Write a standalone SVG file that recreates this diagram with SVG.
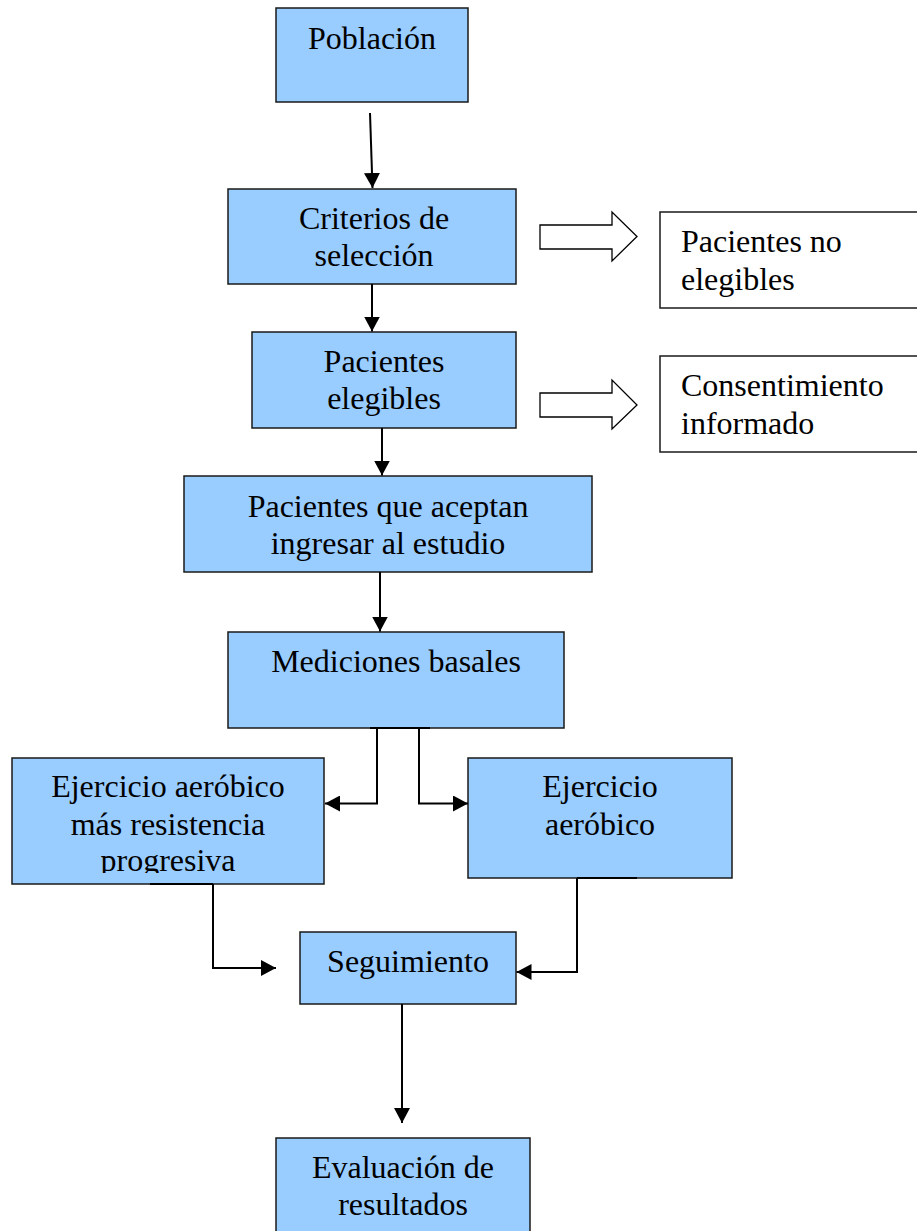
<svg xmlns="http://www.w3.org/2000/svg" width="917" height="1231" viewBox="0 0 917 1231">
<style>
.box{fill:#99ccff;stroke:#1a1a1a;stroke-width:1.5}
.wbox{fill:#ffffff;stroke:#1a1a1a;stroke-width:1.5}
.t{font-family:"Liberation Serif","Times New Roman",serif;font-size:32px;fill:#000;text-anchor:middle}
.tl{font-family:"Liberation Serif","Times New Roman",serif;font-size:32px;fill:#000;text-anchor:start}
.c{fill:none;stroke:#000;stroke-width:2}
.blk{fill:#fff;stroke:#000;stroke-width:1.3}
</style>
<defs>
<marker id="ah" markerUnits="userSpaceOnUse" markerWidth="16" markerHeight="16" refX="15" refY="8" orient="auto">
<path d="M0,0 L15,8 L0,16 z" fill="#000"/>
</marker>
<clipPath id="clipL"><rect x="12" y="758" width="312" height="115"/></clipPath>
</defs>
<rect width="917" height="1231" fill="#fff"/>
<g id="n-poblacion">
<rect class="box" x="276" y="8" width="192" height="94"/>
<text class="t" x="372" y="49">Población</text>
</g>
<g id="n-criterios">
<rect class="box" x="228" y="189" width="288" height="95"/>
<text class="t" x="374" y="229">Criterios de</text>
<text class="t" x="374" y="266">selección</text>
</g>
<g id="n-elegibles">
<rect class="box" x="252" y="332" width="264" height="96"/>
<text class="t" x="384" y="372">Pacientes</text>
<text class="t" x="384" y="409">elegibles</text>
</g>
<g id="n-no-elegibles">
<rect class="wbox" x="660" y="212" width="262" height="96"/>
<text class="tl" x="681" y="252">Pacientes no</text>
<text class="tl" x="681" y="290">elegibles</text>
</g>
<g id="n-consentimiento">
<rect class="wbox" x="660" y="356" width="262" height="96"/>
<text class="tl" x="681" y="396">Consentimiento</text>
<text class="tl" x="681" y="434">informado</text>
</g>
<g id="n-aceptan">
<rect class="box" x="184" y="476" width="408" height="96"/>
<text class="t" x="388" y="517">Pacientes que aceptan</text>
<text class="t" x="388" y="554">ingresar al estudio</text>
</g>
<g id="n-mediciones">
<rect class="box" x="228" y="632" width="336" height="96"/>
<text class="t" x="396" y="672">Mediciones basales</text>
</g>
<g id="n-ej-res">
<rect class="box" x="12" y="758" width="312" height="126"/>
<g clip-path="url(#clipL)">
<text class="t" x="168" y="797">Ejercicio aeróbico</text>
<text class="t" x="168" y="835">más resistencia</text>
<text class="t" x="168" y="871">progresiva</text>
</g>
</g>
<g id="n-ej-aer">
<rect class="box" x="468" y="758" width="264" height="120"/>
<text class="t" x="600" y="797">Ejercicio</text>
<text class="t" x="600" y="835">aeróbico</text>
</g>
<g id="n-seguimiento">
<rect class="box" x="300" y="932" width="216" height="72"/>
<text class="t" x="408" y="972">Seguimiento</text>
</g>
<g id="n-evaluacion">
<rect class="box" x="276" y="1138" width="254" height="100"/>
<text class="t" x="403" y="1178">Evaluación de</text>
<text class="t" x="403" y="1215">resultados</text>
</g>
<g id="connectors">
<line class="c" x1="370" y1="113" x2="372.5" y2="188" marker-end="url(#ah)"/>
<line class="c" x1="372" y1="284" x2="372" y2="331.5" marker-end="url(#ah)"/>
<line class="c" x1="382" y1="428" x2="382" y2="475.5" marker-end="url(#ah)"/>
<line class="c" x1="380" y1="572" x2="380" y2="631.5" marker-end="url(#ah)"/>
<line class="c" x1="370" y1="728" x2="430" y2="728"/>
<polyline class="c" points="377,728 377,803.5 325,803.5" marker-end="url(#ah)"/>
<polyline class="c" points="419,728 419,803.5 468,803.5" marker-end="url(#ah)"/>
<line class="c" x1="150" y1="884" x2="213" y2="884"/>
<polyline class="c" points="213,884 213,968 276,968" marker-end="url(#ah)"/>
<line class="c" x1="577" y1="878" x2="637" y2="878"/>
<polyline class="c" points="577,878 577,972 516.5,972" marker-end="url(#ah)"/>
<line class="c" x1="402" y1="1004" x2="402" y2="1123" marker-end="url(#ah)"/>
<path class="blk" d="M540,225 L612,225 L612,212 L637,236.5 L612,261 L612,249 L540,249 z"/>
<path class="blk" d="M540,393 L612,393 L612,380 L637,405 L612,429 L612,417 L540,417 z"/>
</g>
</svg>
